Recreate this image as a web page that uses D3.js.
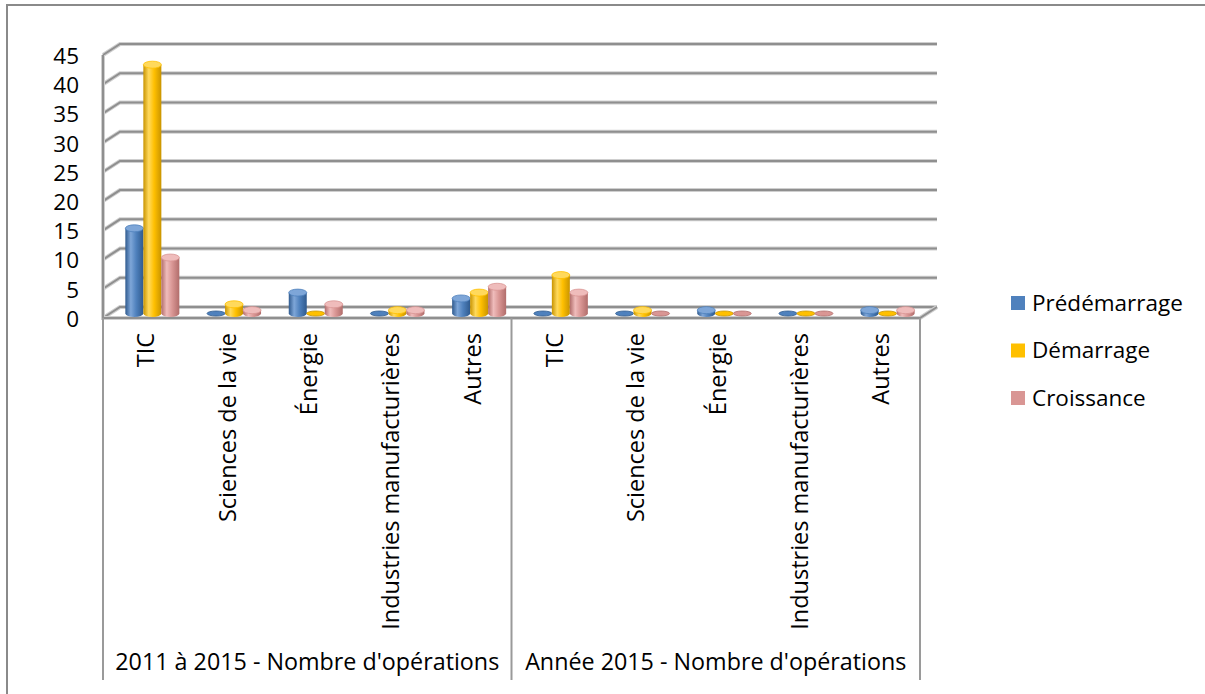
<!DOCTYPE html>
<html>
<head>
<meta charset="utf-8">
<script src="https://cdn.jsdelivr.net/npm/d3@7"></script>
<style>
  body { margin: 0; background: #fff; }
  svg { display: block; font-family: "Open Sans", sans-serif; }
</style>
</head>
<body>
<svg id="chart" width="1205" height="694"></svg>
<script>
// données
const categories = ["TIC", "Sciences de la vie", "Énergie", "Industries manufacturières", "Autres"];
const groups = ["2011 à 2015 - Nombre d'opérations", "Année 2015 - Nombre d'opérations"];
const series = ["Prédémarrage", "Démarrage", "Croissance"];
const predemarrage = [15, 0, 4, 0, 3, 0, 0, 1, 0, 1];
const demarrage = [43, 2, 0, 1, 4, 7, 1, 0, 0, 0];
const croissance = [10, 1, 2, 1, 5, 4, 0, 0, 0, 1];
const yTicks = [0, 5, 10, 15, 20, 25, 30, 35, 40, 45];

const values = [predemarrage, demarrage, croissance];
const colors = ["#4f81bd", "#ffc000", "#d99694"];
const dark = ["#2f5a8e", "#c99400", "#b16d6b"];
const light = ["#7ea6d8", "#ffd95c", "#efbcbb"];

const svg = d3.select("#chart");
const depth = {dx: 17, dy: -11};
const plot = {left: 103, right: 920, bottom: 318, top: 55, axisBottom: 680};

// une clé par catégorie (deux groupes)
const keys = [];
groups.forEach((g, gi) => categories.forEach((c, ci) => keys.push(gi + "|" + c)));

const x = d3.scaleBand().domain(keys).range([plot.left, plot.right]).padding(0);
const y = d3.scaleLinear().domain([0, 45]).range([plot.bottom, plot.top]);
const inner = d3.scaleBand().domain(series).range([-27, 27]).padding(0);

// cadre extérieur
svg.append("path")
   .attr("d", "M7,694 V5 H1205")
   .attr("fill", "none")
   .attr("stroke", "#8a8a8a")
   .attr("stroke-width", 2);

// quadrillage (mur du fond + paroi gauche)
const grid = svg.append("g");
yTicks.forEach(t => {
  const yf = y(t), yb = y(t) + depth.dy;
  const d = `M${plot.left},${yf} L${plot.left + depth.dx},${yb} H${plot.right + depth.dx}`;
  grid.append("path").attr("d", d).attr("fill", "none")
      .attr("stroke", "#cfcfcf").attr("stroke-width", 4);
  grid.append("path").attr("d", d).attr("fill", "none")
      .attr("stroke", "#8f8f8f").attr("stroke-width", 2);
});

// arête avant gauche et sol
const floor = `M${plot.left},${y(45)} V${plot.bottom} H${plot.right} L${plot.right + depth.dx},${plot.bottom + depth.dy}`;
svg.append("path").attr("d", floor).attr("fill", "none")
   .attr("stroke", "#cfcfcf").attr("stroke-width", 4);
svg.append("path").attr("d", floor).attr("fill", "none")
   .attr("stroke", "#8f8f8f").attr("stroke-width", 2);

// lignes verticales de l'axe des catégories
[plot.left, (plot.left + plot.right) / 2, plot.right].forEach(px => {
  svg.append("line")
     .attr("x1", px).attr("x2", px)
     .attr("y1", plot.bottom).attr("y2", plot.axisBottom)
     .attr("stroke", "#9a9a9a").attr("stroke-width", 2);
});

// dégradés des cylindres
const defs = svg.append("defs");
series.forEach((s, i) => {
  const g = defs.append("linearGradient").attr("id", "grad" + i)
    .attr("x1", "0%").attr("x2", "100%").attr("y1", "0%").attr("y2", "0%");
  g.append("stop").attr("offset", "0%").attr("stop-color", dark[i]);
  g.append("stop").attr("offset", "30%").attr("stop-color", light[i]);
  g.append("stop").attr("offset", "60%").attr("stop-color", colors[i]);
  g.append("stop").attr("offset", "100%").attr("stop-color", dark[i]);
});

// cylindres
const bars = [];
keys.forEach((k, ki) => {
  series.forEach((s, si) => bars.push({key: k, serie: s, si: si, v: values[si][ki]}));
});

const rx = 9, ry = 3.5;
const midY = v => y(v) + depth.dy / 2;
const cx = d => x(d.key) + x.bandwidth() / 2 + depth.dx / 2 + inner(d.serie) + inner.bandwidth() / 2;

const cyl = svg.append("g").selectAll("g.bar")
  .data(bars)
  .join("g")
  .attr("class", "bar");

cyl.filter(d => d.v > 0).append("path")
   .attr("d", d => {
     const c = cx(d), top = midY(d.v) + ry, base = midY(0) + 1;
     return `M${c - rx},${top} V${base} A${rx},${ry} 0 0 0 ${c + rx},${base} V${top} Z`;
   })
   .attr("fill", d => `url(#grad${d.si})`);

cyl.append("ellipse")
   .attr("cx", cx)
   .attr("cy", d => d.v > 0 ? midY(d.v) + ry : midY(0) + 1)
   .attr("rx", rx)
   .attr("ry", d => d.v > 0 ? ry : 2.5)
   .attr("fill", d => d.v > 0 ? light[d.si] : colors[d.si])
   .attr("stroke", d => d.v > 0 ? colors[d.si] : dark[d.si])
   .attr("stroke-width", 0.8);

// axe vertical
svg.append("g")
   .selectAll("text")
   .data(yTicks)
   .join("text")
   .attr("x", 79)
   .attr("y", d => y(d) + 1)
   .attr("dy", "0.35em")
   .attr("text-anchor", "end")
   .attr("font-size", 22.5)
   .attr("fill", "#000")
   .text(d => d);

// étiquettes des catégories (verticales)
svg.append("g")
   .selectAll("text")
   .data(keys)
   .join("text")
   .attr("transform", d => `translate(${x(d) + x.bandwidth() / 2 + 2},333) rotate(-90)`)
   .attr("dy", "0.35em")
   .attr("text-anchor", "end")
   .attr("font-size", 23.5)
   .attr("fill", "#000")
   .text(d => d.split("|")[1]);

// étiquettes des groupes
svg.append("g")
   .selectAll("text")
   .data(groups)
   .join("text")
   .attr("x", (d, i) => {
     const ks = keys.filter(k => k.startsWith(i + "|"));
     return (x(ks[0]) + x(ks[ks.length - 1]) + x.bandwidth()) / 2;
   })
   .attr("y", 670)
   .attr("text-anchor", "middle")
   .attr("font-size", 23.3)
   .attr("fill", "#000")
   .text(d => d);

// légende
const legend = svg.append("g").attr("transform", "translate(1011,303)");
series.forEach((s, i) => {
  legend.append("rect")
    .attr("x", 0).attr("y", i * 47.5 - 7)
    .attr("width", 14).attr("height", 14)
    .attr("fill", colors[i]);
  legend.append("text")
    .attr("x", 21).attr("y", i * 47.5)
    .attr("dy", "0.35em")
    .attr("font-size", 22.5)
    .attr("fill", "#000")
    .text(s);
});
</script>
</body>
</html>
